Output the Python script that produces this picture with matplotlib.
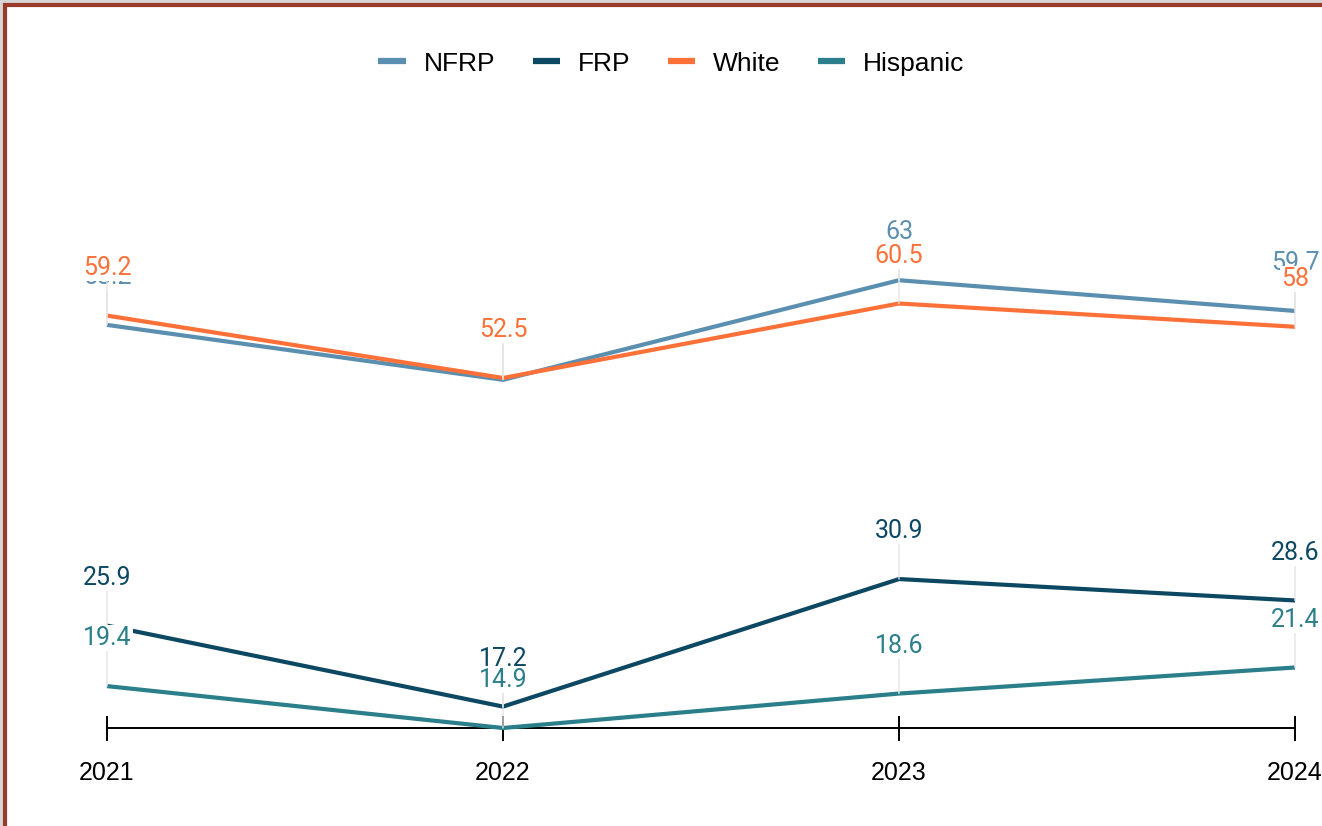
import matplotlib
matplotlib.use('Agg')
import matplotlib.pyplot as plt
from matplotlib.lines import Line2D

years = [2021, 2022, 2023, 2024]
nfrp = [58.2, 52.3, 63, 59.7]
frp = [25.9, 17.2, 30.9, 28.6]
white = [59.2, 52.5, 60.5, 58]
hispanic = [19.4, 14.9, 18.6, 21.4]

series = [
    ('NFRP', nfrp, '#5b8fb0'),
    ('FRP', frp, '#0c4862'),
    ('White', white, '#fd7139'),
    ('Hispanic', hispanic, '#2a7f8a'),
]

fig = plt.figure(figsize=(13.22, 8.26), dpi=100)
ax = fig.add_axes([107 / 1322, 98 / 826, (1295 - 107) / 1322, 0.621])

for name, vals, color in series:
    ax.plot(years, vals, color=color, lw=3.0, label=name, clip_on=False,
            solid_joinstyle='miter', solid_capstyle='butt')

# value labels above each point, with a faint leader line down to the point
for name, vals, color in series:
    for x, y in zip(years, vals):
        ax.annotate(f'{y:g}', xy=(x, y), xytext=(0, 34.5), textcoords='offset points',
                    ha='center', va='center', color=color, fontsize=18,
                    family=['Roboto', 'DejaVu Sans'],
                    bbox=dict(boxstyle='square,pad=0.05', fc='white', ec='none'),
                    arrowprops=dict(arrowstyle='-', color='#e4e4e4', lw=1,
                                    shrinkA=0, shrinkB=0),
                    annotation_clip=False, zorder=5)

ax.set_xlim(2021, 2024)
ax.set_ylim(14.9, 70)
ax.set_xticks(years)
ax.set_xticklabels([str(y) for y in years], family=['Liberation Sans', 'DejaVu Sans'],
                   fontsize=18)
ax.set_yticks([])
for side in ['top', 'right', 'left']:
    ax.spines[side].set_visible(False)
ax.spines['bottom'].set_linewidth(1.4)
ax.spines['bottom'].set_zorder(1)
ax.tick_params(axis='x', direction='inout', length=18, width=1.4, pad=15)

leg = fig.legend(loc='center', bbox_to_anchor=(0.508, 0.923), ncol=4, frameon=False,
                 prop={'family': ['Liberation Sans', 'DejaVu Sans'], 'size': 19},
                 handlelength=1.05, handletextpad=0.68, columnspacing=1.4)
for h in leg.legend_handles:
    h.set_linewidth(4.5)

# page frame on the top and left edges
fig.add_artist(Line2D([0.5 / 1322, 0.5 / 1322], [0, 1], color='#d6d6d6', lw=2.2))
fig.add_artist(Line2D([0, 1], [1 - 0.5 / 826, 1 - 0.5 / 826], color='#d6d6d6', lw=2.2))
fig.add_artist(Line2D([4.5 / 1322, 4.5 / 1322], [0, 1 - 3 / 826], color='#993a2a', lw=3,
                      solid_capstyle='butt'))
fig.add_artist(Line2D([3 / 1322, 1], [1 - 4.5 / 826, 1 - 4.5 / 826], color='#993a2a', lw=3,
                      solid_capstyle='butt'))

fig.savefig('out.png', dpi=100)
